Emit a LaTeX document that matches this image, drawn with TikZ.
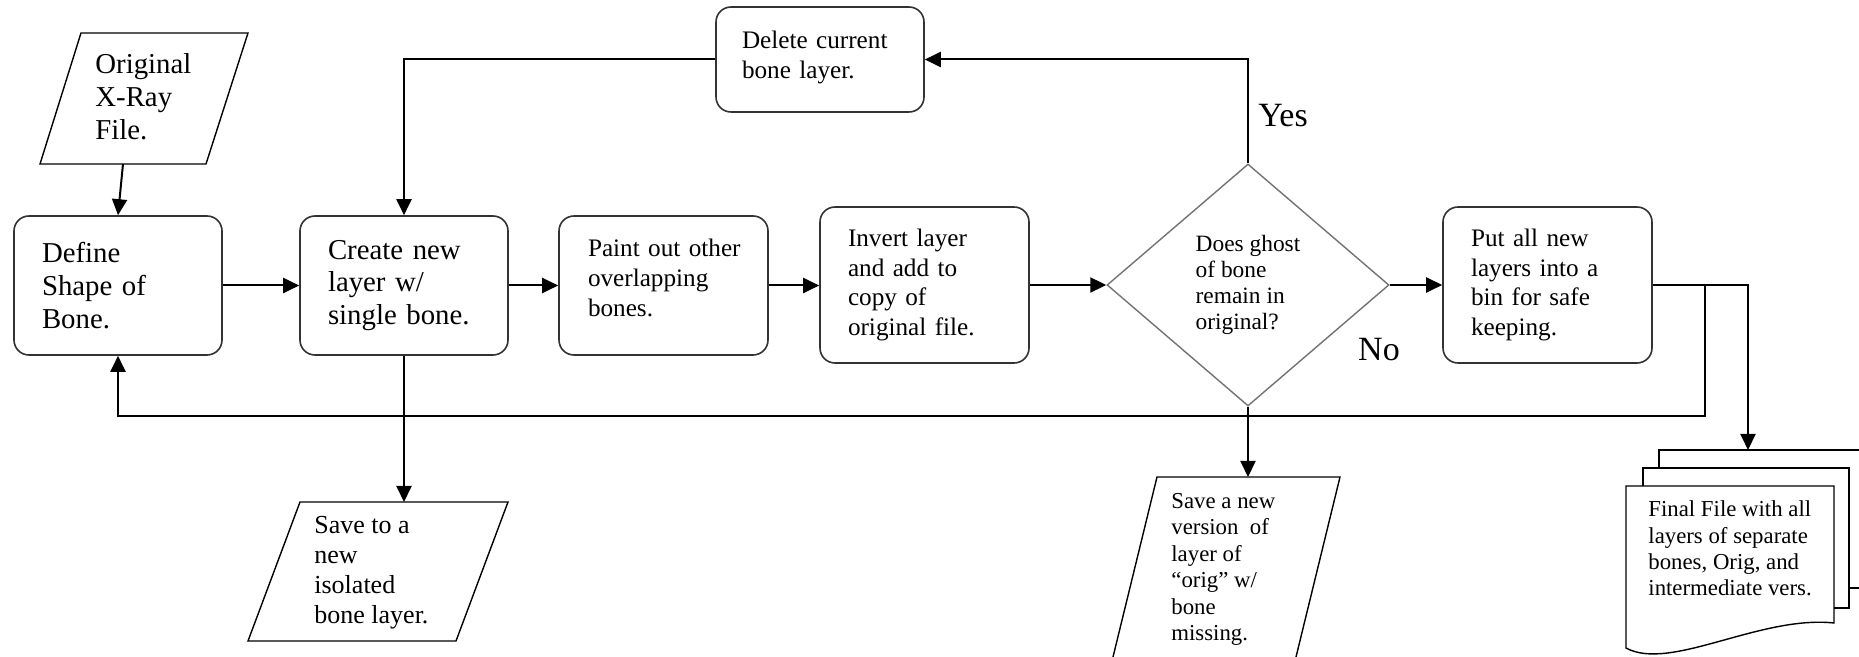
\documentclass[tikz,border=0pt]{standalone}
\usepackage{fontspec}
\setmainfont{Liberation Serif}
\usetikzlibrary{shapes.geometric,arrows.meta}
\newcommand\fntbig{\fontsize{14.4}{16.4}\selectfont}
\newcommand\fntmid{\fontsize{12.6}{14.8}\selectfont}
\newcommand\fntsave{\fontsize{13}{15}\selectfont}
\newcommand\fntdia{\fontsize{11.7}{13}\selectfont}
\newcommand\fntsmall{\fontsize{11.4}{13.2}\selectfont}
\newcommand\fntyn{\fontsize{17}{19}\selectfont}
\tikzset{
  box/.style={draw=black!80, line width=0.8pt, rounded corners=7.5pt, align=left, inner ysep=0pt},
  conn/.style={draw=black, line width=1pt, -{Triangle[length=8pt,width=7.5pt]}},
  wire/.style={draw=black, line width=1pt},
  shapeline/.style={draw=black, line width=0.7pt, line join=miter},
  txt/.style={inner sep=0pt, align=left, anchor=west},
  decision/.style={diamond, draw=black!55, line width=0.7pt, inner sep=0pt, align=left, font=\fntdia}
}
\begin{document}
\begin{tikzpicture}[x=0.5pt, y=-0.5pt]
\useasboundingbox[fill=white] (0,0) rectangle (1859,657);

% process boxes
\node[box, font=\fntbig, minimum width=104pt, minimum height=69.5pt, text width=76pt, inner xsep=14pt] (define) at (118,285.5) {Define\\Shape of\\Bone.};
\node[box, font=\fntbig, minimum width=104pt, minimum height=69.5pt, text width=76pt, inner xsep=14pt] (create) at (404,285.5) {Create new\\layer w/\\single bone.};
\node[box, font=\fntmid, minimum width=104.5pt, minimum height=69.5pt, text width=75.5pt, inner xsep=14.5pt] (paint) at (663.5,285.5) {\mbox{Paint out other}\\overlapping\\bones.\\[-7pt]\mbox{}};
\node[box, font=\fntmid, minimum width=104.5pt, minimum height=78pt, text width=76.5pt, inner xsep=14pt] (invert) at (924.5,285) {Invert layer\\and add to\\copy of\\original file.};
\node[box, font=\fntmid, minimum width=104.5pt, minimum height=78pt, text width=76.5pt, inner xsep=14pt] (put) at (1547.5,285) {Put all new\\layers into a\\bin for safe\\keeping.};
\node[box, font=\fntmid, minimum width=104pt, minimum height=52.5pt, text width=78pt, inner xsep=13pt] (delete) at (820,59.5) {Delete current\\bone layer.\\[-10pt]\mbox{}};

% decision
\node[decision, minimum width=141pt, minimum height=121pt] (dia) at (1248,285) {Does ghost\\of bone\\remain in\\original?};

% input / output parallelograms
\draw[shapeline] (81,33) -- (248,33) -- (206,164) -- (40,164) -- cycle;
\node[txt, font=\fntbig] (origtxt) at (95,97) {Original\\X-Ray\\File.};
\coordinate (origB) at (123,164);

\draw[shapeline] (300,502) -- (508,502) -- (456,641) -- (248,641) -- cycle;
\node[txt, font=\fntsave] (save1txt) at (314,573) {Save to a\\new\\isolated\\bone layer.};
\coordinate (s1T) at (404,502);

\draw[shapeline] (1113,657) -- (1157,477) -- (1340,477) -- (1296,657);
\node[txt, font=\fntsmall] (save2txt) at (1171,569.5) {Save a new\\version\ \ of\\layer of\\``orig'' w/\\bone\\missing.};
\coordinate (s2T) at (1248,477);

% multi-document
\draw[shapeline] (1659,468) -- (1659,450) -- (1859,450);
\draw[shapeline] (1849,588) -- (1859,588);
\draw[shapeline] (1643,486) -- (1643,468) -- (1849,468) -- (1849,608) -- (1834,608);
\draw[shapeline, fill=white] (1626,486) -- (1834,486) -- (1834,623) .. controls (1760,615) and (1670,672) .. (1626,648) -- cycle;
\node[txt, font=\fntsmall] (finaltxt) at (1648,548.5) {Final File with all\\layers of separate\\bones, Orig, and\\intermediate vers.};
\coordinate (docT) at (1748,450);

% connectors
\draw[conn] (origB) -- (define.north);
\draw[conn] (define.east) -- (create.west);
\draw[conn] (create.east) -- (paint.west);
\draw[conn] (paint.east) -- (paint.east -| invert.west);
\draw[conn] (invert.east) -- (dia.west);
\draw[conn] (dia.east) -- (put.west);
\draw[conn] (dia.north) |- (delete.east);
\draw[conn] (delete.west) -| (create.north);
\draw[conn] (create.south) -- (s1T);
\draw[conn] (dia.south) -- (s2T);
\coordinate (jA) at (1705,285);
\coordinate (fb) at (118,416);
\draw[conn] (put.east) -- (jA) |- (fb) -- (define.south);
\draw[conn] (put.east) -| (docT);

% labels
\node[font=\fntyn, inner sep=0pt] (yes) at (1283,116) {Yes};
\node[font=\fntyn, inner sep=0pt] (no) at (1379,350) {No};
\end{tikzpicture}
\end{document}
